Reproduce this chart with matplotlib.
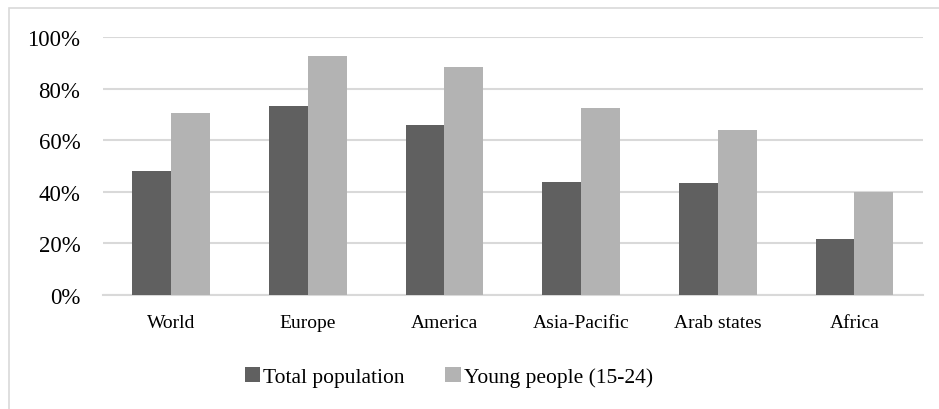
import matplotlib
matplotlib.use("Agg")
import matplotlib.pyplot as plt
from matplotlib.patches import Rectangle, Patch
from matplotlib.ticker import FuncFormatter
import numpy as np

regions = ["World", "Europe", "America", "Asia-Pacific", "Arab states", "Africa"]
total_population = [48, 73.4, 65.8, 43.7, 43.5, 21.7]
young_people = [70.5, 92.5, 88.4, 72.3, 64.0, 40.0]
series_names = ["Total population", "Young people (15-24)"]
y_ticks = [0, 20, 40, 60, 80, 100]

dark = "#606060"
light = "#b3b3b3"
grid_color = "#d9d9d9"

plt.rcParams["font.family"] = ["Liberation Serif", "DejaVu Serif"]

fig = plt.figure(figsize=(9.39, 4.10), dpi=100)
ax = fig.add_axes([102.7 / 939, 1 - 296 / 410, 820 / 939, 258 / 410])

x = np.arange(len(regions))
width = 0.284
ax.bar(x - width / 2, total_population, width, color=dark, zorder=3)
ax.bar(x + width / 2, young_people, width, color=light, zorder=3)

ax.set_xlim(-0.5, len(regions) - 0.5)
ax.set_ylim(0, 100)
ax.set_yticks(y_ticks)
ax.yaxis.set_major_formatter(FuncFormatter(lambda v, _: f"{v:.0f}%"))
ax.set_xticks(x)
ax.set_xticklabels(regions)
ax.tick_params(axis="y", length=0, pad=16, labelsize=16.5, colors="#000000")
ax.tick_params(axis="x", length=0, pad=14, labelsize=14)
ax.grid(axis="y", color=grid_color, linewidth=1.5, zorder=0)
for side in ["top", "right", "left"]:
    ax.spines[side].set_visible(False)
ax.spines["bottom"].set_color(grid_color)
ax.spines["bottom"].set_linewidth(1.5)

handles = [Patch(facecolor=dark), Patch(facecolor=light)]
fig.legend(handles, series_names, loc="center", bbox_to_anchor=(0.478, 0.078),
           ncol=2, frameon=False, fontsize=15.5, handlelength=0.7,
           handleheight=0.7, handletextpad=0.15, columnspacing=1.9)

border = Rectangle((9 / 939, -0.05), 1.1, 1 - 9 / 410 + 0.05,
                   transform=fig.transFigure, fill=False,
                   edgecolor=grid_color, linewidth=1.2)
fig.patches.append(border)

fig.savefig("out.png", dpi=100)
